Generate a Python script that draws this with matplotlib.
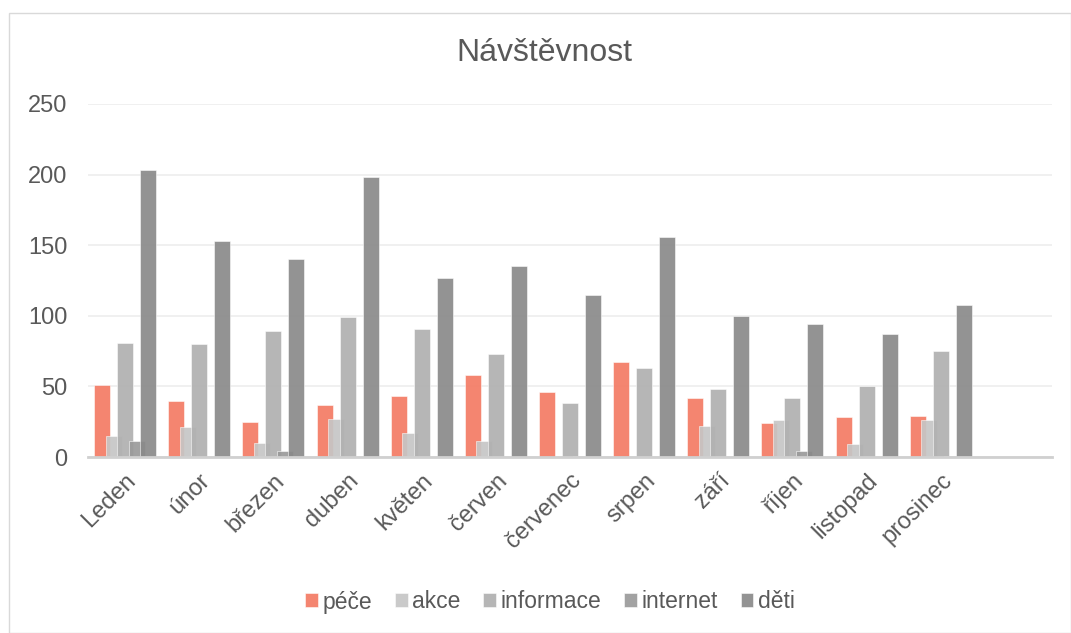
import matplotlib
matplotlib.use("Agg")
import matplotlib.pyplot as plt
from matplotlib.patches import Rectangle
import numpy as np

plt.rcParams['font.family'] = ['Liberation Sans', 'DejaVu Sans']

categories = ["Leden", "únor", "březen", "duben", "květen", "červen", "červenec",
              "srpen", "září", "říjen", "listopad", "prosinec", ""]
series_names = ["péče", "akce", "informace", "internet", "děti"]
pece      = [51, 40, 25, 37, 43, 58, 46, 67, 42, 24, 28, 29, 0]
akce      = [15, 21, 10, 27, 17, 11, 0, 0, 22, 26, 9, 26, 0]
informace = [81, 80, 89, 99, 91, 73, 38, 63, 48, 42, 50, 75, 0]
internet  = [11, 0, 4, 0, 0, 0, 1, 0, 0, 4, 0, 1, 0]
deti      = [203, 153, 140, 198, 127, 135, 115, 156, 100, 94, 87, 108, 0]
series = [pece, akce, informace, internet, deti]
colors = ["#F47B64", "#C6C6C6", "#B0B0B0", "#9A9A9A", "#8A8A8A"]

W, H = 1071, 633
fig = plt.figure(figsize=(W / 100, H / 100), dpi=100)
fig.patches.append(Rectangle((9 / W, 0), (W - 9) / W, (H - 13) / H, transform=fig.transFigure,
                             fill=False, edgecolor="#D9D9D9", linewidth=1.0))

ax = fig.add_axes([88 / W, (H - 457) / H, 964 / W, 353 / H])
x = np.arange(len(categories))
step = 0.155
width = 0.216
for i, (name, vals, c) in enumerate(zip(series_names, series, colors)):
    ax.bar(x + (i - 2) * step, vals, width=width, color=c, alpha=0.92,
           label=name, zorder=3 + i, edgecolor="white", linewidth=0.4)

ax.set_xlim(-0.5, len(categories) - 0.5)
ax.set_ylim(0, 250)
ax.set_yticks([0, 50, 100, 150, 200, 250])
ax.yaxis.grid(True, color="#EEEEEE", linewidth=1.2, zorder=0)
ax.set_axisbelow(True)
for s in ["top", "right", "left"]:
    ax.spines[s].set_visible(False)
ax.spines["bottom"].set_color("#D0D0D0")
ax.spines["bottom"].set_linewidth(2)
ax.spines["bottom"].set_zorder(10)
ax.tick_params(axis="y", length=0, labelsize=17, labelcolor="#595959", pad=15)
ax.tick_params(axis="x", length=0, labelsize=17, labelcolor="#595959", pad=9)
ax.set_xticks(x)
ax.set_xticklabels(categories, rotation=45, ha="right", rotation_mode="anchor")

fig.text(544 / W, 1 - 53 / H, "Návštěvnost", ha="center", va="center",
         fontsize=23, color="#595959")

leg = fig.legend(*ax.get_legend_handles_labels(), loc="center", ncol=5,
                 bbox_to_anchor=(550 / W, 1 - 602 / H), frameon=False,
                 fontsize=16.5, handlelength=0.55, handleheight=0.55,
                 handletextpad=0.2, columnspacing=1.0)
for t in leg.get_texts():
    t.set_color("#595959")

fig.savefig("out.png", dpi=100)
